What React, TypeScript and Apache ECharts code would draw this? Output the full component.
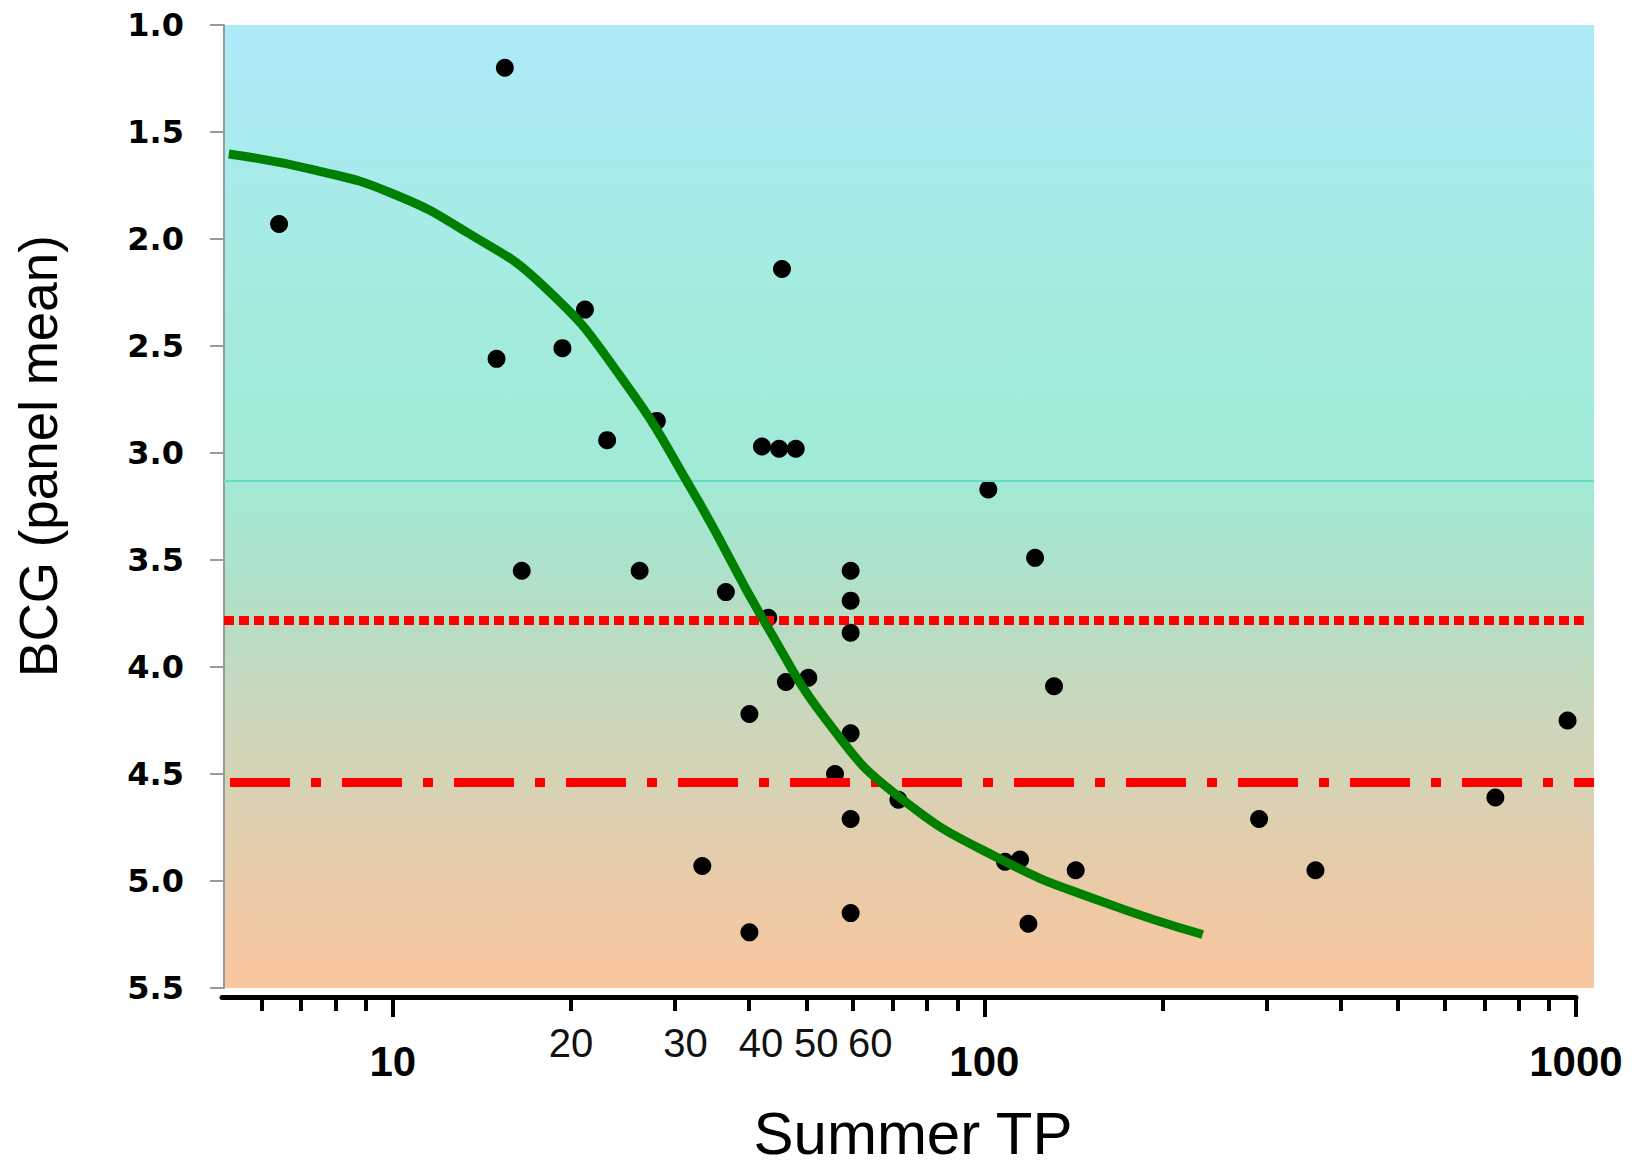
import React, { useEffect, useRef } from "react";
import * as echarts from "echarts";

// Scatter points: Summer TP vs BCG (panel mean)
const tpValues = [
  6.42, 15.45, 14.96, 16.5, 19.33, 21.1, 23.0, 26.1, 27.9, 33.3,
  36.5, 40.0, 40.0, 42.0, 43.05, 44.9, 45.4, 46.1, 47.9, 50.3,
  55.8, 59.3, 59.3, 59.3, 59.3, 59.3, 59.3, 71.4, 101.3, 108.1,
  114.6, 118.4, 121.5, 130.8, 142.3, 290.4, 361.6, 728, 964,
];
const bcgValues = [
  1.93, 1.2, 2.56, 3.55, 2.51, 2.33, 2.94, 3.55, 2.85, 4.93,
  3.65, 4.22, 5.24, 2.97, 3.77, 2.98, 2.14, 4.07, 2.98, 4.05,
  4.5, 3.55, 3.69, 3.84, 4.31, 4.71, 5.15, 4.62, 3.17, 4.91,
  4.9, 5.2, 3.49, 4.09, 4.95, 4.71, 4.95, 4.61, 4.25,
];

// Fitted green curve
const curveTP = [5.28, 7.38, 9.92, 13.39, 18.02, 24.27, 32.2, 42.8, 55.4, 71.9, 106, 156.4, 233.2];
const curveBCG = [1.603, 1.678, 1.785, 1.972, 2.224, 2.645, 3.187, 3.807, 4.29, 4.611, 4.897, 5.093, 5.25];

// Reference lines
const tealLine = 3.13;
const dottedLine = 3.78;
const dottedLineEndTP = 1027;
const dashDotLine = 4.54;

// Axis ticks and labels
const xTickValues = [6, 7, 8, 9, 10, 20, 30, 40, 50, 60, 70, 80, 90, 100, 200, 300, 400, 500, 600, 700, 800, 900, 1000];
const xMajorTickValues = [10, 100, 1000];
const xLabelValues = [10, 20, 30, 40, 50, 60, 100, 1000];
const yMin = 1.0;
const yMax = 5.5;
const yStep = 0.5;

const FONT = "Liberation Sans";

export default function App() {
  const ref = useRef<HTMLDivElement>(null);

  useEffect(() => {
    if (!ref.current) return;
    const chart = echarts.init(ref.current, null, { renderer: "svg" });
    const lg = (v: number) => Math.log10(v);

    const bg = new echarts.graphic.LinearGradient(0, 0, 0, 1, [
      { offset: 0, color: "#AEEAFA" },
      { offset: 0.3, color: "#A3ECDD" },
      { offset: 0.47, color: "#A0EAD6" },
      { offset: 0.6, color: "#B3DFC6" },
      { offset: 0.72, color: "#CBD7BB" },
      { offset: 0.82, color: "#DDD0B1" },
      { offset: 0.92, color: "#EEC9A5" },
      { offset: 1, color: "#F9C59F" },
    ]);

    const gridTop = 25;
    const gridBottom = 182;
    const dataLeft = 224;
    const dataRight = 45;
    const dataMin = 1 + (dataLeft - 393) / 592;
    const dataMax = 1 + (1639 - dataRight - 393) / 592;
    const axLeft = 222;
    const axRight = 63;
    const axMin = 1 + (axLeft - 393) / 592;
    const axMax = 3.0001;

    const labelFormatter = (val: number) => {
      const n = Math.round(Math.pow(10, val));
      if (n === 10 || n === 100 || n === 1000) return `{big|${n}}`;
      return `{s${n}|${n}}`;
    };
    const small = { fontFamily: FONT, fontSize: 40, lineHeight: 76, color: "#111" };

    const option: any = {
      animation: false,
      backgroundColor: "#ffffff",
      grid: [
        { left: dataLeft, right: dataRight, top: gridTop, bottom: gridBottom, show: true, backgroundColor: bg, borderWidth: 0 },
        { left: axLeft, right: axRight, top: gridTop, bottom: gridBottom, show: false },
        { left: axLeft, right: axRight, top: gridTop, bottom: gridBottom, show: false },
      ],
      xAxis: [
        { gridIndex: 0, type: "value", min: dataMin, max: dataMax, show: false },
        {
          gridIndex: 1,
          type: "value",
          min: axMin,
          max: axMax,
          offset: 9,
          axisLine: { show: true, onZero: false, lineStyle: { color: "#000", width: 5 } },
          axisTick: { show: true, customValues: xTickValues.map(lg), length: 14, lineStyle: { color: "#000", width: 4 } },
          axisLabel: {
            show: true,
            customValues: xLabelValues.map(lg),
            margin: 8,
            formatter: labelFormatter,
            rich: {
              big: { fontFamily: FONT, fontWeight: "bold", fontSize: 42, lineHeight: 112, color: "#000" },
              s20: { ...small },
              s30: { ...small, padding: [0, 0, 0, 21] },
              s40: { ...small, padding: [0, 0, 0, 24] },
              s50: { ...small, padding: [0, 0, 0, 20] },
              s60: { ...small, padding: [0, 0, 0, 34] },
            },
          },
          splitLine: { show: false },
        },
        {
          gridIndex: 2,
          type: "value",
          min: axMin,
          max: axMax,
          offset: 9,
          axisLine: { show: false, onZero: false },
          axisTick: { show: true, customValues: xMajorTickValues.map(lg), length: 20, lineStyle: { color: "#000", width: 4 } },
          axisLabel: { show: false },
          splitLine: { show: false },
        },
      ],
      yAxis: [
        {
          gridIndex: 0,
          type: "value",
          inverse: true,
          min: yMin,
          max: yMax,
          interval: yStep,
          axisLine: { show: true, lineStyle: { color: "#9a9a9a", width: 2 } },
          axisTick: { show: true, length: 14, lineStyle: { color: "#9a9a9a", width: 2 } },
          axisLabel: {
            margin: 40,
            fontFamily: "DejaVu Sans",
            fontWeight: "bold",
            fontSize: 32,
            color: "#000",
            formatter: (v: number) => v.toFixed(1),
          },
          splitLine: { show: false },
        },
        { gridIndex: 1, type: "value", min: 0, max: 1, show: false },
        { gridIndex: 2, type: "value", min: 0, max: 1, show: false },
      ],
      series: [
        {
          type: "scatter",
          xAxisIndex: 0,
          yAxisIndex: 0,
          data: tpValues.map((t, i) => [lg(t), bcgValues[i]]),
          symbol: "circle",
          symbolSize: 18,
          itemStyle: { color: "#000", opacity: 1 },
          z: 3,
          silent: true,
        },
        {
          type: "line",
          xAxisIndex: 0,
          yAxisIndex: 0,
          data: [],
          z: 4,
          silent: true,
          markLine: {
            silent: true,
            symbol: ["none", "none"],
            label: { show: false },
            data: [
              { yAxis: tealLine, lineStyle: { color: "#66DDC2", width: 2, type: "solid" } },
              [
                { coord: [dataMin, dottedLine], lineStyle: { color: "#FF0000", width: 9, type: [10, 5] } },
                { coord: [lg(dottedLineEndTP), dottedLine] },
              ],
              { yAxis: dashDotLine, lineStyle: { color: "#FF0000", width: 9, type: [60, 21, 10, 21], dashOffset: 106 } },
            ],
          },
        },
        {
          type: "line",
          xAxisIndex: 0,
          yAxisIndex: 0,
          data: curveTP.map((t, i) => [lg(t), curveBCG[i]]),
          smooth: 0.5,
          showSymbol: false,
          symbol: "none",
          lineStyle: { color: "#008000", width: 9 },
          z: 5,
          silent: true,
        },
      ],
      graphic: [
        {
          type: "text",
          x: 38,
          y: 456,
          rotation: Math.PI / 2,
          style: {
            text: "BCG (panel mean)",
            font: `53px "${FONT}"`,
            fill: "#000",
            align: "center",
            verticalAlign: "middle",
            textAlign: "center",
            textVerticalAlign: "middle",
          },
        },
        {
          type: "text",
          x: 913,
          y: 1133,
          style: {
            text: "Summer TP",
            font: `60px "${FONT}"`,
            fill: "#000",
            align: "center",
            verticalAlign: "middle",
            textAlign: "center",
            textVerticalAlign: "middle",
          },
        },
      ],
    };

    chart.setOption(option);
    return () => chart.dispose();
  }, []);

  return (
    <div
      ref={ref}
      style={{ position: "fixed", left: 0, top: 0, width: 1639, height: 1170 }}
    />
  );
}
